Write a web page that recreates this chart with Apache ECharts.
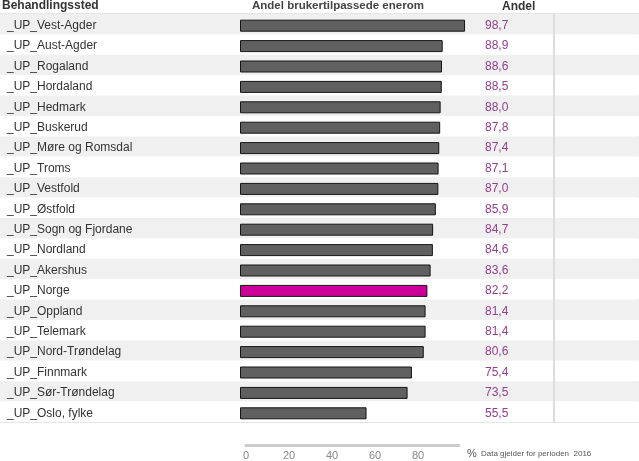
<!DOCTYPE html>
<html>
<head>
<meta charset="utf-8">
<script src="https://cdn.jsdelivr.net/npm/echarts@6/dist/echarts.min.js"></script>
<style>html,body{margin:0;padding:0;background:#fff}#c{width:639px;height:461px}</style>
</head>
<body>
<div id="c"></div>
<script>
const categories = ['_UP_Vest-Agder','_UP_Aust-Agder','_UP_Rogaland','_UP_Hordaland','_UP_Hedmark','_UP_Buskerud','_UP_Møre og Romsdal','_UP_Troms','_UP_Vestfold','_UP_Østfold','_UP_Sogn og Fjordane','_UP_Nordland','_UP_Akershus','_UP_Norge','_UP_Oppland','_UP_Telemark','_UP_Nord-Trøndelag','_UP_Finnmark','_UP_Sør-Trøndelag','_UP_Oslo, fylke'];
const values = [98.7,88.9,88.6,88.5,88.0,87.8,87.4,87.1,87.0,85.9,84.7,84.6,83.6,82.2,81.4,81.4,80.6,75.4,73.5,55.5];
const highlight = '_UP_Norge';
const axisTicks = [0,20,40,60,80];

const FONT = 'Liberation Sans, Arial, sans-serif';
const fmt = v => v.toFixed(1).replace('.', ',');
const chart = echarts.init(document.getElementById('c'));
const TOP = 14, HEIGHT = 408;

chart.setOption({
  animation: false,
  textStyle: { fontFamily: FONT },
  title: [
    { text: 'Behandlingssted', left: 2, top: 0, padding: 0, textStyle: { fontSize: 12, fontWeight: 'bold', color: '#333', fontFamily: FONT } },
    { text: 'Andel brukertilpassede enerom', left: 252, top: 0, padding: 0, textStyle: { fontSize: 11.5, fontWeight: 'bold', color: '#444', fontFamily: FONT } },
    { text: 'Andel', left: 502, top: 1, padding: 0, textStyle: { fontSize: 12, fontWeight: 'bold', color: '#333', fontFamily: FONT } },
    { text: '%', left: 467, top: 448, padding: 0, textStyle: { fontSize: 11, fontWeight: 'normal', color: '#555', fontFamily: FONT } },
    { text: 'Data gjelder for perioden  2016', left: 481, top: 450, padding: 0, textStyle: { fontSize: 8, fontWeight: 'normal', color: '#555', fontFamily: FONT } }
  ],
  grid: [
    { left: -1, right: -1, top: TOP, height: HEIGHT, show: true, borderColor: '#ddd', borderWidth: 1.5, backgroundColor: 'transparent' },
    { left: 240, width: 228, top: TOP + 1.5, height: HEIGHT },
    { left: 468, right: 85, top: TOP, height: HEIGHT },
    { left: 246, width: 213, top: 445, height: 1 }
  ],
  xAxis: [
    { gridIndex: 0, type: 'value', show: false },
    { gridIndex: 1, type: 'value', min: 0, max: 100, show: false },
    { gridIndex: 2, type: 'value', min: 0, max: 1, show: false },
    { gridIndex: 3, type: 'value', min: 0, max: 99, interval: 20, position: 'bottom',
      axisLine: { show: true, lineStyle: { color: '#ccc', width: 3 } },
      axisTick: { show: false }, splitLine: { show: false },
      axisLabel: { margin: 5, fontSize: 11, color: '#888', fontFamily: FONT,
        customValues: axisTicks } }
  ],
  yAxis: [
    { gridIndex: 0, type: 'category', inverse: true, data: categories,
      axisLine: { show: false }, axisTick: { show: false }, axisLabel: { show: false },
      splitLine: { show: false },
      splitArea: { show: true, interval: 0, areaStyle: { color: ['#f0f0f0', '#ffffff'] } } },
    { gridIndex: 1, type: 'category', inverse: true, data: categories, position: 'left',
      axisLine: { show: false }, axisTick: { show: false },
      axisLabel: { interval: 0, margin: 233, align: 'left', padding: [9, 0, 0, 0], fontSize: 12, color: '#333', fontFamily: FONT } },
    { gridIndex: 1, type: 'category', inverse: true, data: values.map(fmt), position: 'right',
      axisLine: { show: false }, axisTick: { show: false },
      axisLabel: { interval: 0, margin: 17, align: 'left', padding: [5, 0, 0, 0], fontSize: 12, color: '#953d8f', fontFamily: FONT } },
    { gridIndex: 2, type: 'category', inverse: true, data: categories, position: 'right',
      axisLine: { show: true, onZero: false, lineStyle: { color: '#ddd', width: 2 } }, axisTick: { show: false }, axisLabel: { show: false } },
    { gridIndex: 3, type: 'value', show: false }
  ],
  series: [
    { type: 'bar', xAxisIndex: 1, yAxisIndex: 1, barWidth: 12,
      itemStyle: { color: '#606060', borderColor: '#151515', borderWidth: 1 },
      data: categories.map((c, i) => c === highlight
        ? { value: values[i], itemStyle: { color: '#cc0099', borderColor: '#151515' } }
        : values[i]) }
  ]
});
</script>
</body>
</html>
